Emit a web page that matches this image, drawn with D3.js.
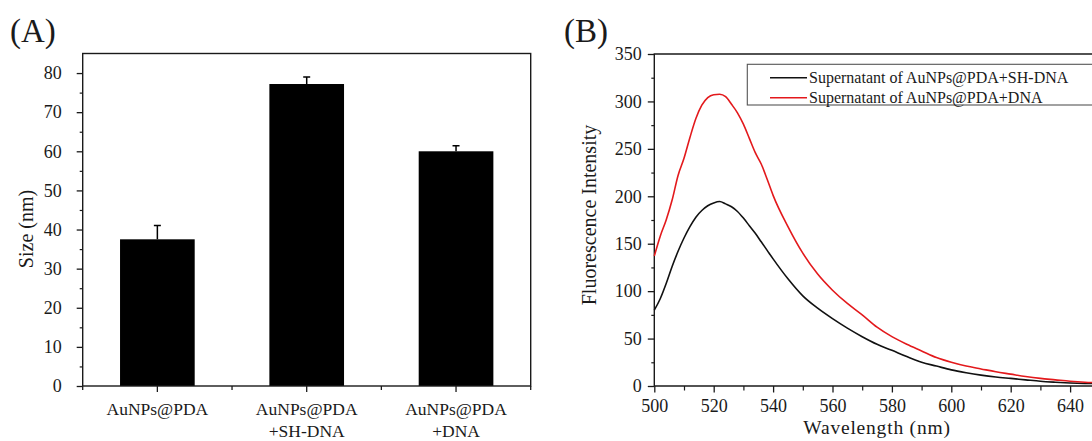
<!DOCTYPE html>
<html><head><meta charset="utf-8">
<script src="https://cdn.jsdelivr.net/npm/d3@7"></script>
<style>
body{margin:0;background:#fff;}
svg, svg text{font-family:"Liberation Serif","Times New Roman",serif !important;}
</style></head>
<body><svg id="c" width="1092" height="441"></svg>
<script>
// ---- Panel A data ----
const categories = [["AuNPs@PDA"], ["AuNPs@PDA", "+SH-DNA"], ["AuNPs@PDA", "+DNA"]];
const sizes = [37.5, 77.2, 60.0];
const sizeErrors = [3.5, 1.8, 1.4];
const sizeTicks = [0, 10, 20, 30, 40, 50, 60, 70, 80];

// ---- Panel B data ----
const wavelength = [500,502,504,506,508,510,512,514,516,518,520,522,524,526,528,530,532,534,536,538,540,545,550,555,560,565,570,575,580,585,590,595,600,605,610,615,620,625,630,635,640,645,650];
const intensitySH = [80,92,108,126,142,156,168,178,185,190,193,194.5,192,189,184,177,169,161,152,143,134,113,95,82,71,61,52,44,37.6,31,25,21,17,14,11.5,9.5,8,6.5,5,4,3.2,2.7,2.5];
const intensityDNA = [137,158,175,196,222,240,262,282,296,304,307,307.5,305,297,288,276,261,246,234,218,201,168,140,118,101,87,75,62,52,44,37,30,25,21,18,15,12.5,10,8,6.5,5,4,3.5];
const seriesNames = ["Supernatant of AuNPs@PDA+SH-DNA", "Supernatant of AuNPs@PDA+DNA"];
const seriesColors = ["#111111", "#e3191c"];
const yTicksB = [0, 50, 100, 150, 200, 250, 300, 350];
const xTicksB = [500, 520, 540, 560, 580, 600, 620, 640];

const FONT = "Liberation Serif, Times New Roman, serif";
const svg = d3.select("#c");
svg.append("rect").attr("width",1092).attr("height",441).attr("fill","#fff");
const ink = "#1a1a1a";

// ================= Panel A =================
const A = {l:82.7, r:530.7, t:53.5, b:386};
const xA = d3.scaleBand().domain(d3.range(categories.length)).range([A.l, A.r]).paddingInner(0.5).paddingOuter(0.25);
const yA = d3.scaleLinear().domain([0, 85]).range([A.b, A.t]);

svg.append("text").attr("x", 10).attr("y", 42).attr("font-size", 33).attr("font-family",FONT).attr("fill", ink).text("(A)");

const gA = svg.append("g");
gA.selectAll("rect.bar").data(sizes).join("rect").attr("class","bar")
  .attr("x", (d,i)=>xA(i)).attr("width", xA.bandwidth())
  .attr("y", d=>yA(d)).attr("height", d=>yA(0)-yA(d)).attr("fill","#000");
gA.selectAll("path.err").data(sizes).join("path").attr("class","err")
  .attr("d", (d,i)=>{const cx=xA(i)+xA.bandwidth()/2, y0=yA(d), y1=yA(d+sizeErrors[i]);
     return `M${cx},${y0}V${y1}M${cx-3.5},${y1}H${cx+3.5}`;})
  .attr("stroke","#000").attr("stroke-width",1.5).attr("fill","none");

gA.append("rect").attr("x",A.l).attr("y",A.t).attr("width",A.r-A.l).attr("height",A.b-A.t)
  .attr("fill","none").attr("stroke",ink).attr("stroke-width",1.4);

const yAxA = gA.append("g").attr("transform",`translate(${A.l},0)`)
  .call(d3.axisLeft(yA).tickValues(sizeTicks).tickSize(6).tickPadding(15).tickFormat(d3.format("d")))
  .attr("font-family",FONT).attr("font-size",18);
yAxA.select(".domain").remove();
yAxA.selectAll("line").attr("stroke",ink).attr("stroke-width",1.3);
yAxA.selectAll("text").attr("fill",ink);
gA.append("g").attr("transform",`translate(${A.l},0)`)
  .call(d3.axisLeft(yA).tickValues(d3.range(5, 85, 10)).tickSize(3).tickFormat(""))
  .call(g=>g.select(".domain").remove())
  .selectAll("line").attr("stroke",ink).attr("stroke-width",1.2);

const centers = categories.map((c,i)=>xA(i)+xA.bandwidth()/2);
const step = xA.step();
const bounds = d3.range(categories.length+1).map(i=>A.l + i*step);
gA.selectAll("line.xmaj").data(centers).join("line").attr("class","xmaj")
  .attr("x1",d=>d).attr("x2",d=>d).attr("y1",A.b).attr("y2",A.b+6).attr("stroke",ink).attr("stroke-width",1.3);
gA.selectAll("line.xmin").data(bounds).join("line").attr("class","xmin")
  .attr("x1",d=>d).attr("x2",d=>d).attr("y1",A.b).attr("y2",A.b+4).attr("stroke",ink).attr("stroke-width",1.3);
const lblA = gA.selectAll("text.cat").data(categories).join("text").attr("class","cat")
  .attr("text-anchor","middle").attr("font-size",17.5).attr("font-family",FONT).attr("fill",ink)
  .attr("transform",(d,i)=>`translate(${centers[i]},415)`);
lblA.selectAll("tspan").data(d=>d).join("tspan").attr("x",0).attr("y",(d,j)=>j*21.7).text(d=>d);

svg.append("text").attr("transform","translate(33,229) rotate(-90)").attr("text-anchor","middle")
  .attr("font-size",20).attr("font-family",FONT).attr("fill",ink).text("Size (nm)");

// ================= Panel B =================
const B = {l:654.3, t:54, b:386};
const xB = d3.scaleLinear().domain([500, 650]).range([B.l, B.l + 150*2.97]);
const yB = d3.scaleLinear().domain([0, 350]).range([B.b, B.t]);

svg.append("text").attr("x", 564).attr("y", 42).attr("font-size", 33).attr("font-family",FONT).attr("fill", ink).text("(B)");

const gB = svg.append("g");
gB.append("path").attr("d",`M${B.l},${B.b}V${B.t}H1100`).attr("fill","none").attr("stroke",ink).attr("stroke-width",1.4);
gB.append("path").attr("d",`M${B.l},${B.b}H1100`).attr("fill","none").attr("stroke",ink).attr("stroke-width",1.6);

const line = d3.line().x((d,i)=>xB(wavelength[i])).y(d=>yB(d)).curve(d3.curveMonotoneX);
[intensitySH, intensityDNA].forEach((s,k)=>{
  gB.append("path").datum(s).attr("d",line).attr("fill","none").attr("stroke",seriesColors[k]).attr("stroke-width",1.6);
});

const yAxB = gB.append("g").attr("transform",`translate(${B.l},0)`)
  .call(d3.axisLeft(yB).tickValues(yTicksB).tickSize(6.5).tickPadding(6).tickFormat(d3.format("d")))
  .attr("font-family",FONT).attr("font-size",18);
yAxB.select(".domain").remove();
yAxB.selectAll("line").attr("stroke",ink).attr("stroke-width",1.3);
yAxB.selectAll("text").attr("fill",ink);
gB.append("g").attr("transform",`translate(${B.l},0)`)
  .call(d3.axisLeft(yB).tickValues(d3.range(25, 350, 50)).tickSize(3).tickFormat(""))
  .call(g=>g.select(".domain").remove())
  .selectAll("line").attr("stroke",ink).attr("stroke-width",1.2);

const xAxB = gB.append("g").attr("transform",`translate(0,${B.b})`)
  .call(d3.axisBottom(xB).tickValues(xTicksB).tickSize(6.5).tickPadding(7).tickFormat(d3.format("d")))
  .attr("font-family",FONT).attr("font-size",18);
xAxB.select(".domain").remove();
xAxB.selectAll("line").attr("stroke",ink).attr("stroke-width",1.3);
xAxB.selectAll("text").attr("fill",ink);
gB.append("g").attr("transform",`translate(0,${B.b})`)
  .call(d3.axisBottom(xB).tickValues(d3.range(510, 660, 20)).tickSize(4.5).tickFormat(""))
  .call(g=>g.select(".domain").remove())
  .selectAll("line").attr("stroke",ink).attr("stroke-width",1.2);

svg.append("text").attr("x",877).attr("y",434).attr("text-anchor","middle").attr("font-size",19.5)
  .attr("font-family",FONT).attr("letter-spacing",0.8).attr("fill",ink).text("Wavelength (nm)");
svg.append("text").attr("transform","translate(596,215) rotate(-90)").attr("text-anchor","middle")
  .attr("font-size",20).attr("font-family",FONT).attr("fill",ink).text("Fluorescence Intensity");

const lg = gB.append("g");
lg.append("rect").attr("x",747.3).attr("y",64.3).attr("width",360).attr("height",40.7)
  .attr("fill","#fff").attr("stroke","#555").attr("stroke-width",1.1);
seriesNames.forEach((n,k)=>{
  const yy = 77.7 + k*20;
  lg.append("line").attr("x1",770).attr("x2",807).attr("y1",yy).attr("y2",yy).attr("stroke",seriesColors[k]).attr("stroke-width",1.6);
  lg.append("text").attr("x",809).attr("y",yy+5.5).attr("font-size",16).attr("font-family",FONT).attr("fill",ink).text(n);
});
</script></body></html>
